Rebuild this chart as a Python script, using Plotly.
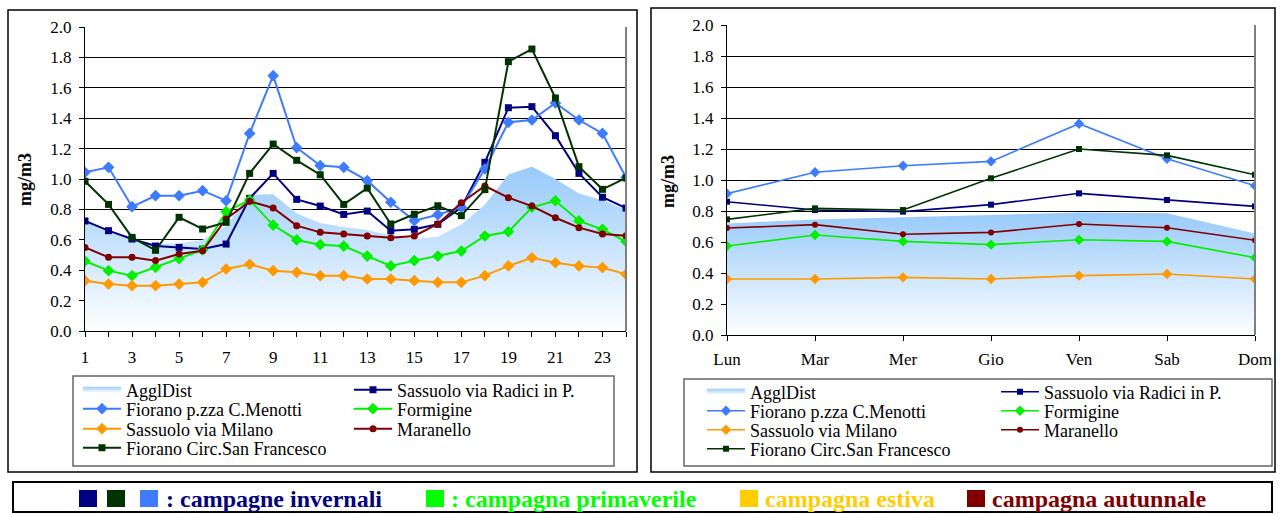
import plotly.graph_objects as go

W, H = 1285, 514

# ---------------- data ----------------
hours = list(range(1, 25))
hour_labels = [str(h) for h in hours]
days = ["Lun", "Mar", "Mer", "Gio", "Ven", "Sab", "Dom"]

names = ["AgglDist", "Sassuolo via Radici in P.", "Fiorano p.zza C.Menotti", "Formigine",
         "Sassuolo via Milano", "Maranello", "Fiorano Circ.San Francesco"]

aggl_h = [0.72, 0.66, 0.60, 0.575, 0.575, 0.60, 0.69, 0.895, 0.90, 0.775, 0.71, 0.685,
          0.665, 0.63, 0.605, 0.62, 0.70, 0.83, 1.03, 1.08, 1.00, 0.905, 0.86, 0.80]
radici_h = [0.724, 0.66, 0.605, 0.559, 0.55, 0.539, 0.572, 0.873, 1.037, 0.866, 0.822, 0.767,
            0.789, 0.66, 0.669, 0.702, 0.814, 1.11, 1.469, 1.476, 1.285, 1.037, 0.88, 0.809]
menotti_h = [1.044, 1.077, 0.818, 0.89, 0.89, 0.923, 0.857, 1.30, 1.68, 1.206, 1.088, 1.077,
             0.989, 0.847, 0.726, 0.765, 0.814, 1.066, 1.373, 1.388, 1.50, 1.388, 1.30, 1.01]
formigine_h = [0.46, 0.397, 0.364, 0.419, 0.476, 0.533, 0.785, 0.862, 0.697, 0.599, 0.568, 0.559,
               0.493, 0.428, 0.463, 0.493, 0.526, 0.625, 0.653, 0.814, 0.857, 0.724, 0.669, 0.588]
milano_h = [0.331, 0.309, 0.298, 0.298, 0.309, 0.32, 0.408, 0.439, 0.397, 0.386, 0.364, 0.364,
            0.342, 0.342, 0.331, 0.32, 0.32, 0.364, 0.428, 0.482, 0.449, 0.428, 0.417, 0.373]
maranello_h = [0.55, 0.485, 0.485, 0.463, 0.507, 0.528, 0.737, 0.853, 0.809, 0.693, 0.649, 0.638,
               0.625, 0.614, 0.625, 0.704, 0.844, 0.954, 0.877, 0.822, 0.745, 0.68, 0.638, 0.627]
circ_h = [0.985, 0.833, 0.616, 0.531, 0.748, 0.671, 0.715, 1.037, 1.23, 1.123, 1.028, 0.833,
          0.94, 0.704, 0.768, 0.824, 0.759, 0.93, 1.772, 1.855, 1.533, 1.081, 0.932, 1.007]

aggl_d = [0.72, 0.745, 0.76, 0.775, 0.79, 0.785, 0.655]
radici_d = [0.86, 0.806, 0.796, 0.841, 0.914, 0.871, 0.83]
menotti_d = [0.912, 1.05, 1.092, 1.12, 1.363, 1.137, 0.963]
formigine_d = [0.574, 0.645, 0.604, 0.583, 0.615, 0.604, 0.499]
milano_d = [0.361, 0.361, 0.372, 0.361, 0.383, 0.394, 0.361]
maranello_d = [0.69, 0.712, 0.65, 0.662, 0.716, 0.692, 0.611]
circ_d = [0.746, 0.817, 0.806, 1.011, 1.2, 1.159, 1.034]

y_title = "mg/m3"
banner_items = [": campagne invernali", ": campagna primaverile", "campagna estiva", "campagna autunnale"]

# ---------------- styles ----------------
FONT = "Liberation Serif"
C_NAVY = "#000080"
C_BLUE = "#3D7BFF"
C_GREEN = "#00F000"
C_ORANGE = "#FF9900"
C_MAROON = "#800000"
C_DGREEN = "#003300"
C_YELLOW = "#FFCC00"

styles = {
    "Sassuolo via Radici in P.": (C_NAVY, "square", 7),
    "Fiorano p.zza C.Menotti": (C_BLUE, "diamond", 9),
    "Formigine": (C_GREEN, "diamond", 9),
    "Sassuolo via Milano": (C_ORANGE, "diamond", 9),
    "Maranello": (C_MAROON, "circle", 7),
    "Fiorano Circ.San Francesco": (C_DGREEN, "square", 7),
}

# legend slot (line-start x, row-centre y) of every entry, in pixels
LEG_OFF_X = 4
slots_left = {
    "AgglDist": (82, 390), "Fiorano p.zza C.Menotti": (82, 409),
    "Sassuolo via Milano": (82, 429), "Fiorano Circ.San Francesco": (82, 448),
    "Sassuolo via Radici in P.": (353, 390), "Formigine": (353, 409), "Maranello": (353, 429),
}
slots_right = {
    "AgglDist": (706, 392), "Fiorano p.zza C.Menotti": (706, 411),
    "Sassuolo via Milano": (706, 430), "Fiorano Circ.San Francesco": (706, 449),
    "Sassuolo via Radici in P.": (1000, 392), "Formigine": (1000, 411), "Maranello": (1000, 430),
}


def px(x):
    return x / W


def py(y):
    return 1 - y / H


fig = go.Figure()

sets = [
    ("x", "y", hours, [aggl_h, radici_h, menotti_h, formigine_h, milano_h, maranello_h, circ_h],
     slots_left, 2.0, 0),
    ("x2", "y2", days, [aggl_d, radici_d, menotti_d, formigine_d, milano_d, maranello_d, circ_d],
     slots_right, 1.6, -1),
]

legfont = dict(family=FONT, size=18, color="black")
legend_layouts = {}
leg_n = 0
for xa, ya, xs, vals, slots, lw, dsz in sets:
    for name, v in zip(names, vals):
        leg_n += 1
        leg_id = "legend" if leg_n == 1 else "legend%d" % leg_n
        lx, ly = slots[name]
        legend_layouts[leg_id] = dict(
            x=px(lx - LEG_OFF_X), y=py(ly), xanchor="left", yanchor="middle",
            bgcolor="rgba(0,0,0,0)", borderwidth=0, font=legfont, itemwidth=38,
            itemclick=False, itemdoubleclick=False)
        if name == "AgglDist":
            fig.add_trace(go.Scatter(
                x=xs, y=v, name=name, mode="none", fill="tozeroy",
                fillgradient=dict(type="vertical", start=0, stop=max(v),
                                  colorscale=[[0, "#FFFFFF"], [1, "#97CAFA"]]),
                xaxis=xa, yaxis=ya, legend=leg_id, hoverinfo="skip"))
        else:
            col, sym, sz = styles[name]
            fig.add_trace(go.Scatter(
                x=xs, y=v, name=name, mode="lines+markers",
                line=dict(color=col, width=lw),
                marker=dict(color=col, symbol=sym, size=sz + dsz, line=dict(width=0)),
                xaxis=xa, yaxis=ya, legend=leg_id))

tickfont = dict(family=FONT, size=17, color="black")
yaxis_common = dict(range=[0, 2], tick0=0, dtick=0.2, tickformat=".1f", showgrid=True,
                    gridcolor="black", gridwidth=1, showline=True, linecolor="black", linewidth=1,
                    ticks="outside", ticklen=5, tickcolor="black", zeroline=False,
                    tickfont=tickfont, ticklabelstandoff=4, fixedrange=True, automargin=False)

fig.update_layout(
    width=W, height=H, margin=dict(l=0, r=0, t=0, b=0, pad=0, autoexpand=False),
    paper_bgcolor="white", plot_bgcolor="white",
    font=dict(family=FONT, size=17, color="black"),
    xaxis=dict(domain=[px(85), px(626)], anchor="y", range=[1, 24],
               tickmode="array", tickvals=hours[::2], ticktext=hour_labels[::2],
               ticks="outside", ticklen=5, tickcolor="black", showline=True, linecolor="black",
               linewidth=1, showgrid=False, zeroline=False, tickfont=tickfont,
               ticklabelstandoff=6, automargin=False, fixedrange=True,
               minor=dict(tickmode="linear", tick0=1, dtick=1, ticks="outside", ticklen=5,
                          tickcolor="black", showgrid=False)),
    yaxis=dict(domain=[py(331), py(27)], anchor="x", **yaxis_common),
    xaxis2=dict(domain=[px(727), px(1255)], anchor="y2", type="category",
                categoryorder="array", categoryarray=days, range=[0, 6],
                ticks="outside", ticklen=5, tickcolor="black", showline=True, linecolor="black",
                linewidth=1, showgrid=False, zeroline=False, tickfont=tickfont,
                ticklabelstandoff=4, automargin=False, fixedrange=True),
    yaxis2=dict(domain=[py(335), py(25)], anchor="x2", **yaxis_common),
    showlegend=True,
)
fig.update_layout(**legend_layouts)

shapes = []


def rect(x0, y0, x1, y1, color="black", width=1.5, fill=None):
    shapes.append(dict(type="rect", xref="paper", yref="paper", x0=px(x0), x1=px(x1),
                       y0=py(y1), y1=py(y0), line=dict(color=color, width=width),
                       fillcolor=fill, layer="above"))


def vline(x, y0, y1, color="#808080", width=2):
    shapes.append(dict(type="line", xref="paper", yref="paper", x0=px(x), x1=px(x),
                       y0=py(y1), y1=py(y0), line=dict(color=color, width=width), layer="above"))


# outer chart frames
rect(8, 10, 637, 472, width=1.5)
rect(651, 8, 1275, 472, width=1.5)
# legend frames
rect(73, 376, 614, 466, color="#666666", width=1.5)
rect(684, 379, 1272, 466, color="#666666", width=1.5)
# plot-area right borders
vline(626, 27, 331)
vline(1255, 25, 335)
# banner
rect(13, 482, 1272, 512, width=2)
for (x0, col) in [(79, C_NAVY), (107, C_DGREEN), (140, C_BLUE), (426, "#00FF00"),
                  (740, C_YELLOW), (967, C_MAROON)]:
    shapes.append(dict(type="rect", xref="paper", yref="paper", x0=px(x0), x1=px(x0 + 18),
                       y0=py(507), y1=py(490), line=dict(width=0), fillcolor=col, layer="above"))
fig.update_layout(shapes=shapes)

annotations = []
for xl, yl in [(25, 180), (668, 182)]:
    annotations.append(dict(xref="paper", yref="paper", x=px(xl), y=py(yl),
                            text="<b>" + y_title + "</b>", showarrow=False, textangle=-90,
                            font=dict(family=FONT, size=18, color="black"),
                            xanchor="center", yanchor="middle"))
for xl, txt, col in [(164, banner_items[0], C_NAVY), (449, banner_items[1], "#00FF00"),
                     (763, banner_items[2], C_YELLOW), (990, banner_items[3], C_MAROON)]:
    annotations.append(dict(xref="paper", yref="paper", x=px(xl), y=py(499), text="<b>" + txt + "</b>",
                            showarrow=False, xanchor="left", yanchor="middle",
                            font=dict(family=FONT, size=24, color=col)))
fig.update_layout(annotations=annotations)

fig.write_html("out.html", config={"displayModeBar": False},
               post_script="document.body.style.margin='0px';document.body.style.overflow='hidden';")
